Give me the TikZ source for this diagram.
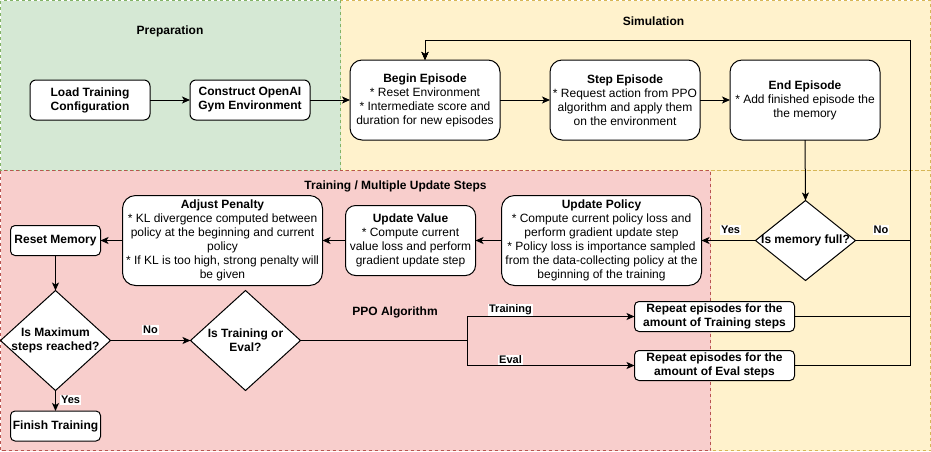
\documentclass[tikz,border=0pt]{standalone}
\usepackage{fontspec}
\setmainfont{Liberation Sans}
\usetikzlibrary{shapes.geometric,arrows.meta}
\newcommand\fs{\fontsize{12}{14}\selectfont}
\newcommand\fl{\fontsize{11}{13}\selectfont\bfseries}
\definecolor{gfill}{HTML}{D5E8D4}
\definecolor{gline}{HTML}{82B366}
\definecolor{yfill}{HTML}{FFF2CC}
\definecolor{yline}{HTML}{D6B656}
\definecolor{rfill}{HTML}{F8CECC}
\definecolor{rline}{HTML}{B85450}
\tikzset{
  region/.style={line width=0.8pt, dash pattern=on 3pt off 3pt},
  proc/.style={draw=black, fill=white, line width=1pt, align=center, inner sep=0pt, outer sep=0pt, font=\fs},
  dia/.style={shape=diamond, draw=black, fill=white, line width=1pt, inner sep=0pt, outer sep=0pt},
  diatext/.style={align=center, font=\fs\bfseries, inner sep=0pt},
  title/.style={font=\fs\bfseries, inner sep=0pt},
  elabel/.style={font=\fl, fill=white, inner sep=0.8pt},
  arr/.style={line width=1pt, -{Stealth[length=8pt,width=7pt,inset=2pt]}},
  ln/.style={line width=1pt}
}
\begin{document}
\begin{tikzpicture}[x=1pt,y=-1pt]
\useasboundingbox (0,0) rectangle (931,451);
% regions
\filldraw[region, fill=yfill, draw=yline] (340.5,0.5) rectangle (930.5,170.5);
\filldraw[region, fill=yfill, draw=yline] (710.5,170.5) rectangle (930.5,450.5);
\filldraw[region, fill=gfill, draw=gline] (0.5,0.5) rectangle (340.5,170.5);
\filldraw[region, fill=rfill, draw=rline] (0.5,170.5) rectangle (710.5,450.5);
% titles
\node[title] (tprep) at (170,31) {Preparation};
\node[title] (tsim) at (653.5,21) {Simulation};
\node[title] (ttrain) at (395.5,186) {Training / Multiple Update Steps};
\node[title] (tppo) at (395,312) {PPO Algorithm};
% nodes
\node[proc, rounded corners=6pt, minimum width=120pt, minimum height=40pt, font=\fs\bfseries] (load) at (90,100) {Load Training\\Configuration};
\node[proc, rounded corners=6pt, minimum width=120pt, minimum height=40pt, font=\fs\bfseries] (cons) at (250,100) {Construct OpenAI\\Gym Environment};
\node[proc, rounded corners=12pt, minimum width=150pt, minimum height=80pt] (begin) at (425,100) {\textbf{Begin Episode}\\* Reset Environment\\* Intermediate score and\\duration for new episodes};
\node[proc, rounded corners=12pt, minimum width=150pt, minimum height=80pt] (step) at (625,100) {\textbf{Step Episode}\\* Request action from PPO\\algorithm and apply them\\on the environment};
\node[proc, rounded corners=12pt, minimum width=150pt, minimum height=80pt] (end) at (805,100) {\textbf{End Episode}\\* Add finished episode the\\the memory};
\node[dia, minimum width=100pt, minimum height=80pt] (mem) at (805.5,240.5) {};
\node[diatext] (memt) at (mem) {Is memory full?};
\node[proc, rounded corners=13pt, minimum width=200pt, minimum height=90pt] (pol) at (601.5,240.5) {\textbf{Update Policy}\\* Compute current policy loss and\\perform gradient update step\\* Policy loss is importance sampled\\from the data-collecting policy at the\\beginning of the training};
\node[proc, rounded corners=10pt, minimum width=130pt, minimum height=70pt] (val) at (410.5,240.5) {\textbf{Update Value}\\* Compute current\\value loss and perform\\gradient update step};
\node[proc, rounded corners=13pt, minimum width=200pt, minimum height=90pt] (pen) at (222.5,240.5) {\textbf{Adjust Penalty}\\* KL divergence computed between\\policy at the beginning and current\\policy\\* If KL is too high, strong penalty will\\be given};
\node[proc, rounded corners=4.5pt, minimum width=90pt, minimum height=30pt, font=\fs\bfseries] (reset) at (55.5,240.5) {Reset Memory};
\node[dia, minimum width=110pt, minimum height=100pt] (maxd) at (55.5,340.5) {};
\node[diatext] (maxt) at (maxd) {Is Maximum\\steps reached?};
\node[dia, minimum width=110pt, minimum height=100pt] (evd) at (245.5,340.5) {};
\node[diatext] (evt) at (evd) {Is Training or\\Eval?};
\node[proc, rounded corners=4.5pt, minimum width=90pt, minimum height=30pt, font=\fs\bfseries] (finish) at (55.5,426) {Finish Training};
\node[proc, rounded corners=4.5pt, minimum width=160pt, minimum height=30pt, font=\fs\bfseries] (rtrain) at (714.5,316.5) {Repeat episodes for the\\amount of Training steps};
\node[proc, rounded corners=4.5pt, minimum width=160pt, minimum height=30pt, font=\fs\bfseries] (reval) at (714.5,365.5) {Repeat episodes for the\\amount of Eval steps};
% coordinates
\coordinate (loop) at (910.5,40.5);
\coordinate (split) at (467.5,340.5);
% connectors
\draw[arr] (load) -- (cons);
\draw[arr] (cons) -- (begin);
\draw[arr] (begin) -- (step);
\draw[arr] (step) -- (end);
\draw[arr] (end.south) -- (mem.north);
\draw[arr] (mem.west) -- (pol.east);
\draw[arr] (mem.east) -| (loop) -| (begin.north);
\draw[arr] (rtrain.east) -| (loop) -| (begin.north);
\draw[arr] (reval.east) -| (loop) -| (begin.north);
\draw[arr] (pol.west) -- (val.east);
\draw[arr] (val.west) -- (pen.east);
\draw[arr] (pen.west) -- (reset.east);
\draw[arr] (reset.south) -- (maxd.north);
\draw[arr] (maxd.east) -- (evd.west);
\draw[arr] (maxd.south) -- (finish.north);
\draw[ln] (evd.east) -- (split);
\draw[arr] (split) |- (rtrain.west);
\draw[arr] (split) |- (reval.west);
% edge labels
\node[elabel] (lyes1) at (730.5,230) {Yes};
\node[elabel] (lno1) at (881,230) {No};
\node[elabel] (lno2) at (150.5,330) {No};
\node[elabel] (lyes2) at (70.5,400) {Yes};
\node[elabel] (ltr) at (510.5,310) {Training};
\node[elabel] (lev) at (510.5,360) {Eval};
\end{tikzpicture}
\end{document}
